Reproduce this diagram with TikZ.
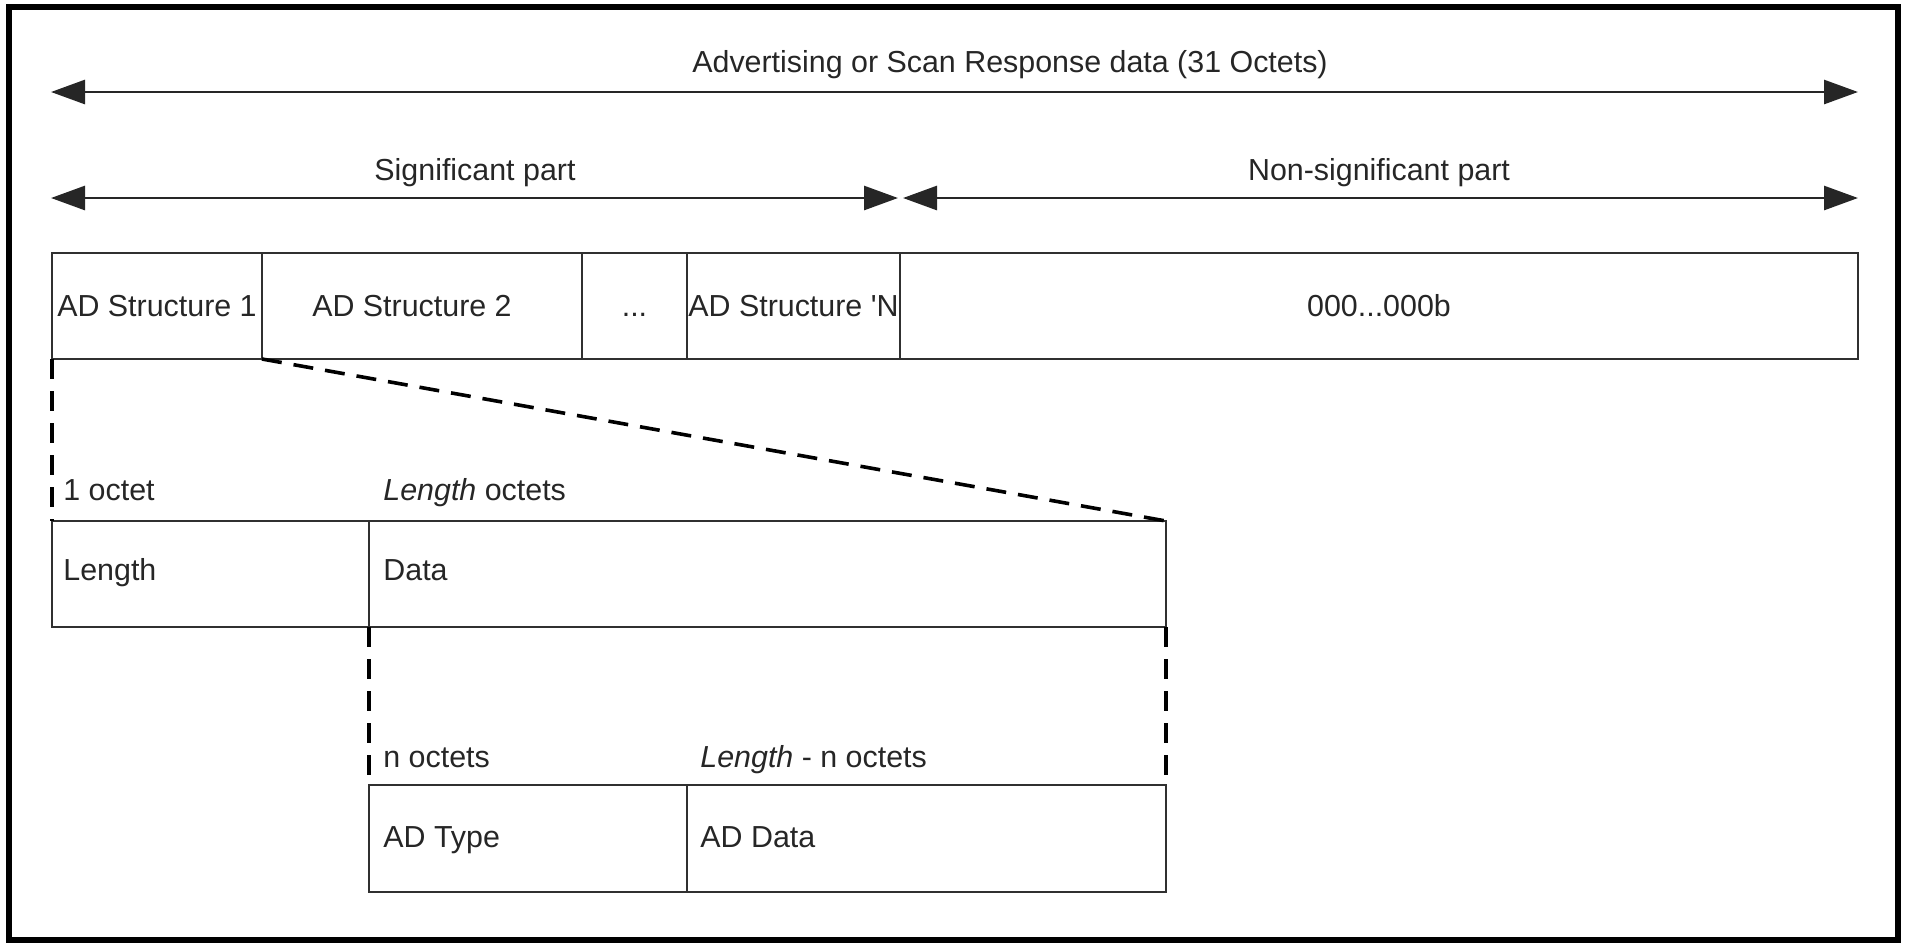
\documentclass[tikz,border=0pt]{standalone}
\usepackage{fontspec}
\setmainfont{Liberation Sans}
\usetikzlibrary{arrows.meta}
\definecolor{txt}{HTML}{262626}
\definecolor{boxc}{HTML}{303030}
\definecolor{arrc}{HTML}{262626}
\begin{document}
\begin{tikzpicture}[x=0.5pt,y=-0.5pt,
  every node/.style={font=\fontsize{15.2pt}{17pt}\selectfont, text=txt},
  fieldbox/.style={draw=boxc, line width=1.1pt, rectangle, inner sep=0pt, outer sep=0pt, minimum height=53pt},
  lbl/.style={anchor=base west, inner sep=0pt},
  ttl/.style={anchor=base, inner sep=0pt},
  spanarrow/.style={draw=arrc, line width=1.4pt, {Triangle[length=17pt,width=12pt]}-{Triangle[length=17pt,width=12pt]}},
  zoomline/.style={draw=black, line width=1.8pt, dash pattern=on 10pt off 6pt},
]
\useasboundingbox (0,0) rectangle (1908,950);
\draw[line width=3pt] (9,7) rectangle (1898,940);

% top spans
\coordinate (aL) at (51,92);
\coordinate (aR) at (1858,92);
\coordinate (bL) at (51,198);
\coordinate (bM1) at (898,198);
\coordinate (bM2) at (903,198);
\coordinate (bR) at (1858,198);
\draw[spanarrow] (aL) -- (aR);
\draw[spanarrow] (bL) -- (bM1);
\draw[spanarrow] (bM2) -- (bR);
\node[ttl] (title) at (1010,72) {Advertising or Scan Response data (31 Octets)};
\node[ttl] (sig) at (475,180) {Significant part};
\node[ttl] (nonsig) at (1379,180) {Non-significant part};

% top row
\node[fieldbox, minimum width=105pt] (s1) at (157,306) {AD Structure 1};
\node[fieldbox, minimum width=160pt] (s2) at (422,306) {AD Structure 2\hspace*{10pt}};
\node[fieldbox, minimum width=52.5pt] (dots) at (634.5,306) {\vphantom{A}{.}{.}{.}};
\node[fieldbox, minimum width=106.5pt] (sN) at (793.5,306) {AD Structure \textquotesingle N};
\node[fieldbox, minimum width=479pt] (zeros) at (1379,306) {000{.}{.}{.}000b};

% second row
\node[fieldbox, minimum width=158.5pt] (len) at (210.5,574) {};
\node[fieldbox, minimum width=398.5pt] (data) at (767.5,574) {};
\node[lbl] (lenT) at (63,580) {Length};
\node[lbl] (dataT) at (383,580) {Data};
\node[lbl] (oct1) at (63,500) {1 octet};
\node[lbl] (octL) at (383,500) {\textit{Length} octets};

% third row
\node[fieldbox, minimum width=159pt, minimum height=53.5pt] (type) at (528,838.5) {};
\node[fieldbox, minimum width=239.5pt, minimum height=53.5pt] (addata) at (926.5,838.5) {};
\node[lbl] (octN) at (383,767) {n octets};
\node[lbl] (octLN) at (700,767) {\textit{Length} - n octets};
\node[lbl] (typeT) at (383,847) {AD Type};
\node[lbl] (addataT) at (700,847) {AD Data};

% zoom lines
\draw[zoomline] (s1.south west) -- (len.north west);
\draw[zoomline] (s1.south east) -- (data.north east);
\draw[zoomline] (data.south west) -- (type.north west);
\draw[zoomline] (data.south east) -- (addata.north east);
\end{tikzpicture}
\end{document}
